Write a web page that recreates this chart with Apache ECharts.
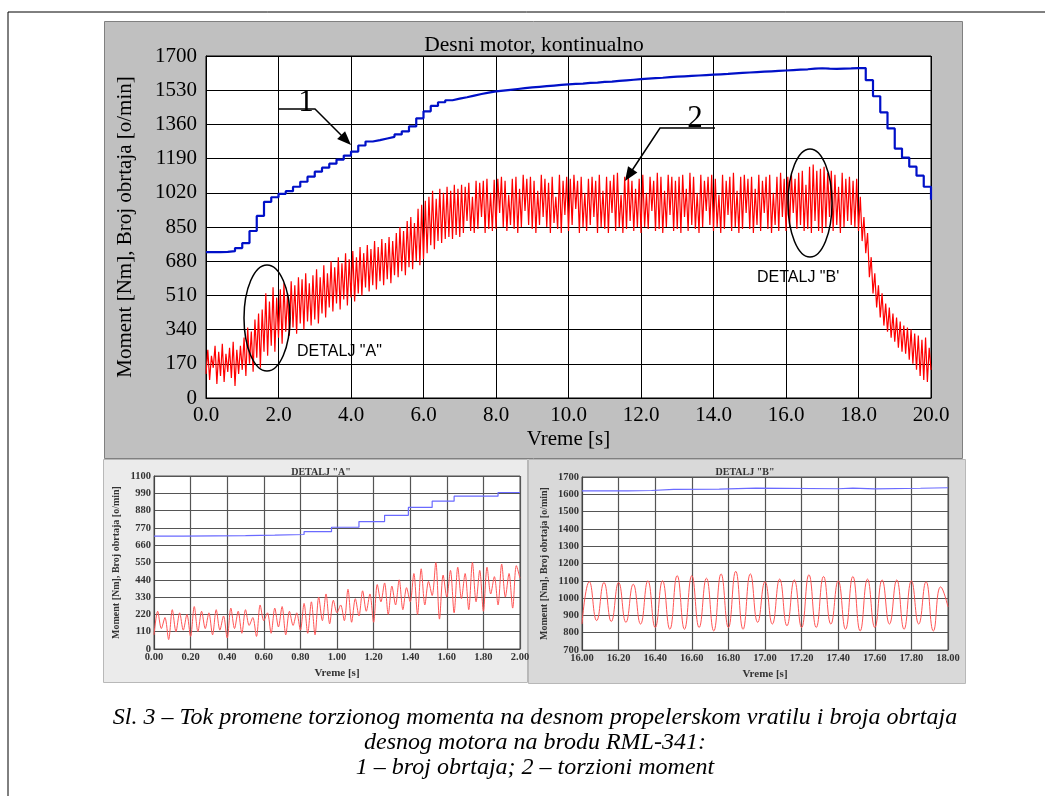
<!DOCTYPE html>
<html>
<head>
<meta charset="utf-8">
<script src="https://cdn.jsdelivr.net/npm/echarts@6/dist/echarts.min.js"></script>
<style>
  html, body { margin: 0; padding: 0; background: #fff; }
  #chart { width: 1050px; height: 796px; }
</style>
</head>
<body>
<div id="chart"></div>
<script>
// glavni dijagram: moment (0.05 s korak) i broj obrtaja (0.2 s korak)
const mainStep = 0.05;
const torqueMain = [
  120,240,90,210,150,260,70,230,110,270,80,220,130,250,100,280,60,240,120,260,
  140,300,110,350,170,330,130,390,200,420,150,440,230,520,210,480,260,550,230,500,
  300,540,270,570,330,520,310,580,350,560,320,600,370,590,340,620,380,570,360,610,
  390,640,370,600,420,660,400,620,450,680,430,650,470,700,440,670,490,720,460,690,
  500,730,480,700,520,750,510,720,550,760,530,740,560,780,540,750,580,790,560,770,
  590,800,570,780,610,820,600,850,630,830,610,880,650,900,640,870,680,940,660,960,
  690,980,720,1000,760,1030,740,990,780,1040,770,1020,790,1050,800,1030,790,1060,810,1040,
  800,1060,820,1050,880,1070,830,1000,820,1080,840,1070,900,1080,820,1090,840,1020,830,1085,
  840,1090,920,1100,850,1080,830,1010,860,1090,840,1100,820,1040,850,1110,930,1090,860,1100,
  840,1080,820,1030,860,1110,900,1090,850,1070,820,1100,870,1000,840,1110,820,1080,910,1100,
  830,1090,860,1110,940,1080,820,1100,850,1020,830,1090,860,1100,900,1080,820,1110,850,1030,
  840,1100,820,1080,920,1110,830,1120,850,1010,820,1100,840,1110,880,1080,830,1040,850,1090,
  820,1110,850,1020,840,1100,930,1080,830,1120,840,1100,820,1030,850,1110,910,1100,830,1080,
  840,1100,820,1110,900,1040,830,1120,860,1100,840,1020,820,1110,850,1080,930,1100,860,1110,
  830,1090,850,1010,820,1110,840,1080,910,1100,830,1120,850,1030,820,1100,840,1110,920,1090,
  840,1100,820,1040,860,1110,830,1080,920,1100,840,1110,820,1020,860,1100,830,1120,900,1090,
  830,1100,850,1110,920,1090,840,1120,860,1130,830,1060,840,1150,820,1160,880,1130,830,1140,
  820,1150,850,1120,900,1130,830,1110,860,1050,820,1120,850,1090,880,1100,860,1080,850,1090,
  830,1000,780,900,720,820,600,700,520,620,450,560,400,520,360,470,330,450,300,420,
  280,400,250,380,230,360,220,350,190,340,170,320,140,310,110,290,90,300,80,250,
  140
];
const rpmStep = 0.2;
const rpmMain = [
  725,725,726,730,745,770,830,905,975,998,
  1015,1028,1050,1075,1100,1125,1145,1165,1185,1205,
  1225,1255,1275,1282,1290,1298,1310,1325,1350,1390,
  1425,1452,1470,1480,1488,1495,1503,1511,1518,1524,
  1528,1532,1536,1540,1544,1547,1550,1553,1556,1559,
  1561,1563,1566,1568,1571,1573,1576,1579,1582,1585,
  1588,1590,1592,1595,1597,1599,1601,1603,1605,1607,
  1609,1611,1614,1616,1618,1620,1622,1624,1626,1628,
  1630,1632,1634,1637,1639,1637,1636,1637,1638,1640,
  1640,1580,1500,1420,1340,1240,1195,1150,1105,1050,
  985
];

// DETALJ "A": 0.00 - 2.00 s
const detailAStep = 0.02;
const torqueA = [
  90,240,130,200,60,250,110,230,120,220,
  80,270,110,240,130,230,90,250,120,210,
  70,260,130,240,100,250,150,200,80,280,
  180,230,100,260,140,270,90,240,150,230,
  120,290,100,300,90,330,180,350,160,310,
  230,280,180,380,170,320,210,370,240,350,
  170,410,300,420,220,400,280,440,250,390,
  300,480,220,510,280,430,340,550,190,470,
  330,500,230,520,320,480,250,550,300,500,
  240,520,350,460,280,540,330,480,260,530,
  450
];
const rpmATimes = [0, 0.16, 0.5, 0.66, 0.82, 0.97, 1.12, 1.26, 1.39, 1.52, 1.64, 1.88, 2.0];
const rpmAValues = [718, 721, 724, 728, 746, 774, 810, 850, 900, 940, 972, 995, 995];

// DETALJ "B": 16.00 - 18.00 s
const detailBStart = 16;
const detailBStep = 0.04;
const torqueB = [
  850,1095,870,1090,865,1090,860,1080,850,1100,
  830,1100,820,1130,820,1130,830,1115,810,1140,
  830,1155,820,1140,860,1095,850,1110,840,1105,
  830,1135,830,1125,850,1100,820,1125,810,1110,
  830,1105,850,1105,820,1100,850,1095,810,1065,
  950
];
const rpmBTimes = [16.0, 16.25, 16.38, 16.5, 16.75, 16.95, 17.4, 17.48, 17.6, 17.85, 18.0];
const rpmBValues = [1620, 1622, 1628, 1630, 1636, 1632, 1636, 1631, 1635, 1638, 1638];

const SERIF = 'Liberation Serif';
const Y_NAME = 'Moment [Nm], Broj obrtaja [o/min]';

function sampled(values, start, step) {
  return values.map((v, i) => [+(start + i * step).toFixed(3), v]);
}
function paired(times, values) {
  return times.map((t, i) => [t, values[i]]);
}
const plain = v => String(Math.round(v));

function mainX() {
  return {
    gridIndex: 0, type: 'value', min: 0, max: 20, interval: 2,
    axisLine: { lineStyle: { color: '#000', width: 1 } },
    axisTick: { show: false },
    axisLabel: { formatter: v => v.toFixed(1), fontFamily: SERIF, fontSize: 21, color: '#000', margin: 7 },
    splitLine: { lineStyle: { color: '#000', width: 1 } },
    name: 'Vreme [s]', nameLocation: 'middle', nameGap: 31,
    nameTextStyle: { fontFamily: SERIF, fontSize: 21, color: '#000' }
  };
}
function mainY() {
  return {
    gridIndex: 0, type: 'value', min: 0, max: 1700, interval: 170,
    axisLine: { show: true, lineStyle: { color: '#000' } },
    axisTick: { show: false },
    axisLabel: { formatter: plain, fontFamily: SERIF, fontSize: 21, color: '#000', margin: 9 },
    splitLine: { lineStyle: { color: '#000', width: 1 } },
    name: Y_NAME, nameLocation: 'middle', nameGap: 70, nameRotate: 90,
    nameTextStyle: { fontFamily: SERIF, fontSize: 21, color: '#000' }
  };
}
function smallX(idx, min, max) {
  return {
    gridIndex: idx, type: 'value', min: min, max: max, interval: 0.2,
    axisLine: { lineStyle: { color: '#444' } },
    axisTick: { show: false },
    axisLabel: { formatter: v => v.toFixed(2), fontFamily: SERIF, fontSize: 10.5, fontWeight: 'bold', color: '#333', margin: 3 },
    splitLine: { lineStyle: { color: '#555', width: 1.2 } },
    name: 'Vreme [s]', nameLocation: 'middle', nameGap: 19,
    nameTextStyle: { fontFamily: SERIF, fontSize: 11, fontWeight: 'bold', color: '#333' }
  };
}
function smallY(idx, min, max, interval) {
  return {
    gridIndex: idx, type: 'value', min: min, max: max, interval: interval,
    axisLine: { show: true, lineStyle: { color: '#444' } },
    axisTick: { show: false },
    axisLabel: { formatter: plain, fontFamily: SERIF, fontSize: 10.5, fontWeight: 'bold', color: '#333', margin: 3 },
    splitLine: { lineStyle: { color: '#555', width: 1.2 } },
    name: Y_NAME, nameLocation: 'middle', nameGap: 33, nameRotate: 90,
    nameTextStyle: { fontFamily: SERIF, fontSize: 10, fontWeight: 'bold', color: '#333' }
  };
}

function line(xi, data, color, width, step, smooth) {
  return {
    type: 'line', xAxisIndex: xi, yAxisIndex: xi, data: data,
    showSymbol: false, symbol: 'none', step: step || false, smooth: smooth || false,
    lineStyle: { color: color, width: width }, animation: false, silent: true
  };
}

function arrowHead(tip, from, size) {
  const dx = tip[0] - from[0], dy = tip[1] - from[1];
  const len = Math.sqrt(dx * dx + dy * dy);
  const ux = dx / len, uy = dy / len;
  const bx = tip[0] - ux * size, by = tip[1] - uy * size;
  const w = size * 0.4;
  return [tip, [bx - uy * w, by + ux * w], [bx + uy * w, by - ux * w]];
}

const chart = echarts.init(document.getElementById('chart'), null, { renderer: 'canvas' });

const capFont = 'italic 24px "Liberation Serif"';
const graphics = [
  // okvir slike
  { type: 'line', shape: { x1: 8, y1: 12, x2: 1045, y2: 12 }, style: { stroke: '#000', lineWidth: 1 }, z: -5 },
  { type: 'line', shape: { x1: 8, y1: 12, x2: 8, y2: 796 }, style: { stroke: '#000', lineWidth: 1 }, z: -5 },
  // pozadine
  { type: 'rect', shape: { x: 104.5, y: 21.5, width: 858, height: 437 }, style: { fill: '#c0c0c0', stroke: '#808080' }, z: -5 },
  { type: 'rect', shape: { x: 103.5, y: 459.5, width: 424, height: 223 }, style: { fill: '#ebebeb', stroke: '#b8b8b8' }, z: -5 },
  { type: 'rect', shape: { x: 528.5, y: 459.5, width: 437, height: 224 }, style: { fill: '#d9d9d9', stroke: '#b8b8b8' }, z: -5 },
  // naslovi
  { type: 'text', x: 534, y: 45, style: { text: 'Desni motor, kontinualno', font: '21.5px "Liberation Serif"', fill: '#000', textAlign: 'center', textVerticalAlign: 'middle' }, z: 50 },
  { type: 'text', x: 321, y: 472, style: { text: 'DETALJ "A"', font: 'bold 10px "Liberation Serif"', fill: '#333', textAlign: 'center', textVerticalAlign: 'middle' }, z: 50 },
  { type: 'text', x: 745, y: 472, style: { text: 'DETALJ "B"', font: 'bold 10px "Liberation Serif"', fill: '#333', textAlign: 'center', textVerticalAlign: 'middle' }, z: 50 },
  // elipse i oznake detalja
  { type: 'ellipse', shape: { cx: 267, cy: 318, rx: 23, ry: 53 }, style: { fill: 'none', stroke: '#000', lineWidth: 1.5 }, z: 50 },
  { type: 'ellipse', shape: { cx: 810, cy: 203, rx: 22, ry: 54 }, style: { fill: 'none', stroke: '#000', lineWidth: 1.5 }, z: 50 },
  { type: 'text', x: 297, y: 352, style: { text: 'DETALJ "A"', font: '16px "Liberation Sans"', fill: '#000', textVerticalAlign: 'middle' }, z: 50 },
  { type: 'text', x: 757, y: 278, style: { text: 'DETALJ "B\'', font: '16px "Liberation Sans"', fill: '#000', textVerticalAlign: 'middle' }, z: 50 },
  // pozicija 1
  { type: 'text', x: 306, y: 103, style: { text: '1', font: '31px "Liberation Serif"', fill: '#000', textAlign: 'center', textVerticalAlign: 'middle' }, z: 50 },
  { type: 'polyline', shape: { points: [[278, 109], [315, 109], [344, 138]] }, style: { stroke: '#000', lineWidth: 1.5, fill: 'none' }, z: 50 },
  { type: 'polygon', shape: { points: arrowHead([351, 145], [315, 109], 14) }, style: { fill: '#000' }, z: 50 },
  // pozicija 2
  { type: 'text', x: 695, y: 119, style: { text: '2', font: '31px "Liberation Serif"', fill: '#000', textAlign: 'center', textVerticalAlign: 'middle' }, z: 50 },
  { type: 'polyline', shape: { points: [[715, 128], [660, 128], [631, 172]] }, style: { stroke: '#000', lineWidth: 1.5, fill: 'none' }, z: 50 },
  { type: 'polygon', shape: { points: arrowHead([625, 181], [660, 128], 14) }, style: { fill: '#000' }, z: 50 },
  // potpis slike
  { type: 'text', x: 535, y: 718, style: { text: 'Sl. 3 \u2013 Tok promene torzionog momenta na desnom propelerskom vratilu i broja obrtaja', font: capFont, fill: '#000', textAlign: 'center', textVerticalAlign: 'middle' }, z: 50 },
  { type: 'text', x: 535, y: 743, style: { text: 'desnog motora na brodu RML-341:', font: capFont, fill: '#000', textAlign: 'center', textVerticalAlign: 'middle' }, z: 50 },
  { type: 'text', x: 535, y: 768, style: { text: '1 \u2013 broj obrtaja; 2 \u2013 torzioni moment', font: capFont, fill: '#000', textAlign: 'center', textVerticalAlign: 'middle' }, z: 50 }
];

chart.setOption({
  backgroundColor: '#fff',
  animation: false,
  grid: [
    { left: 206, top: 56, width: 725, height: 342, show: true, backgroundColor: '#fff', borderColor: '#000', borderWidth: 1 },
    { left: 154, top: 476, width: 366, height: 173, show: true, backgroundColor: '#fff', borderColor: '#555', borderWidth: 1 },
    { left: 582, top: 477, width: 366, height: 173, show: true, backgroundColor: '#fff', borderColor: '#555', borderWidth: 1 }
  ],
  xAxis: [mainX(), smallX(1, 0, 2), smallX(2, 16, 18)],
  yAxis: [mainY(), smallY(1, 0, 1100, 110), smallY(2, 700, 1700, 100)],
  series: [
    line(0, sampled(rpmMain, 0, rpmStep), '#0010c8', 2.2, 'end'),
    line(0, sampled(torqueMain, 0, mainStep), '#ff0000', 1.2),
    line(1, paired(rpmATimes, rpmAValues), '#6a6aff', 1.2, 'end'),
    line(1, sampled(torqueA, 0, detailAStep), '#ff5555', 1, false, 0.3),
    line(2, paired(rpmBTimes, rpmBValues), '#6a6aff', 1.2, 'end'),
    line(2, sampled(torqueB, detailBStart, detailBStep), '#ff5555', 1, false, 0.5)
  ],
  graphic: graphics
});
</script>
</body>
</html>
